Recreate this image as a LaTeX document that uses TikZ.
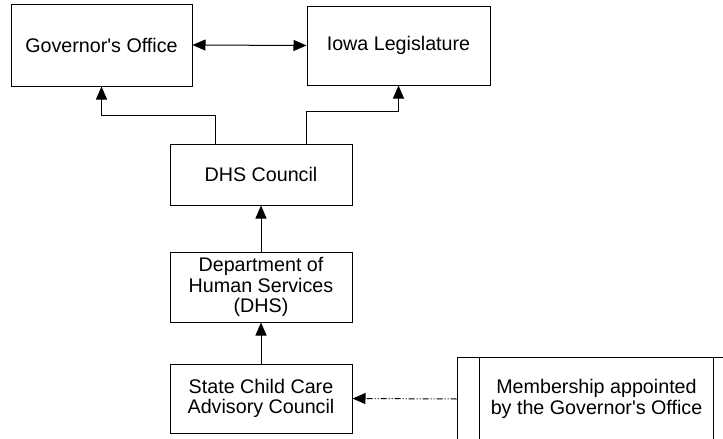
\documentclass[tikz,border=0pt]{standalone}
\usepackage{fontspec}
\setmainfont{Liberation Sans}
\usetikzlibrary{arrows.meta}

\begin{document}
\begin{tikzpicture}[x=0.5pt, y=-0.5pt,
    box/.style={draw, line width=0.5pt, align=center, inner sep=0pt,
      font=\fontsize{9.85}{10.2}\selectfont},
    arr/.style={line width=0.5pt, -{Triangle[length=6.5pt,width=5.5pt]}},
    twoarr/.style={line width=0.5pt, {Triangle[length=6.5pt,width=5.5pt]}-{Triangle[length=6.5pt,width=5.5pt]}},
    dashdots/.style={dash pattern=on 3pt off 1pt on 0.5pt off 1pt on 0.5pt off 1pt}]
                      \useasboundingbox (0, 0) rectangle (723, 439);
                      \clip (0, 0) rectangle (723, 439);

                      \node[box, minimum width=90.5pt, minimum height=41pt] (governor) at (101.5, 45) {Governor\textquotesingle s Office};
                      \node[box, minimum width=91.5pt, minimum height=39.5pt] (iowa) at (398.5, 45.5) {Iowa Legislature};
                      \node[box, minimum width=91pt, minimum height=30.5pt] (council) at (261, 174.5) {DHS Council};
                      \node[box, minimum width=91pt, minimum height=35pt] (dept) at (261, 287) {Department of\\Human Services\\(DHS)};
                      \node[box, minimum width=91pt, minimum height=34.5pt] (state) at (261, 398.5) {State Child Care\\Advisory Council};
                      \node[box, minimum width=139.5pt, minimum height=42pt] (members) at (596.5, 399) {Membership appointed\\by the Governor\textquotesingle s Office};
                      \draw[line width=0.5pt] (members.north west) ++(23, 0) -- ++(0, 84);
                      \draw[line width=0.5pt] (members.north east) ++(-23, 0) -- ++(0, 84);

                      \draw[twoarr] (governor.east) -- (iowa.west);
                      \draw[arr] ([xshift=-23pt]council.north) -- ++(0, -28) -| (governor.south);
                      \draw[arr] ([xshift=22.5pt]council.north) -- ++(0, -32) -| (iowa.south);
                      \draw[arr] (dept.north) -- (council.south);
                      \draw[arr] (state.north) -- (dept.south);
                      \draw[arr, dashdots] (members.west) -- (state.east);
                  \end{tikzpicture}
\end{document}
